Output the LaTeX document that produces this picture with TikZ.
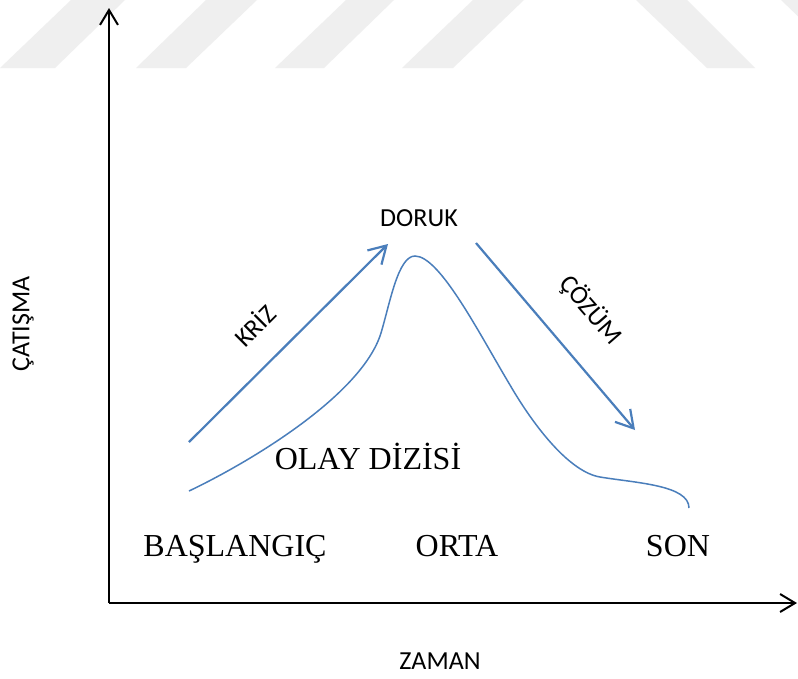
\documentclass[tikz,border=0pt]{standalone}
\usepackage{fontspec}
\setmainfont{Liberation Serif}
\newfontfamily\calibri{Carlito}
\usetikzlibrary{arrows.meta}
\definecolor{ablue}{HTML}{4A7EBB}
\definecolor{wm}{HTML}{EFEFEF}
\begin{document}
\begin{tikzpicture}[x=1pt,y=-1pt,
  lab/.style={font=\calibri\fontsize{26}{30}\selectfont, inner sep=0pt},
  stage/.style={font=\fontsize{32}{38}\selectfont, inner sep=0pt, anchor=base},
  axis/.style={line width=2pt, -{Straight Barb[length=15pt,width=18pt]}},
  barrow/.style={ablue, line width=2.2pt, -{Straight Barb[length=17pt,width=20pt]}},
  curvestyle/.style={ablue, line width=1.5pt},
  stripe/.style={fill=wm, draw=none}]
\useasboundingbox (0,0) rectangle (798,678);
\fill[white] (0,0) rectangle (798,678);
% watermark stripes
\begin{scope}
\clip (0,0) rectangle (798,678);
\fill[stripe] (71,0) -- (125,0) -- (55,68) -- (0,68) -- cycle;
\fill[stripe] (206,0) -- (257,0) -- (186,68) -- (136,68) -- cycle;
\fill[stripe] (346,0) -- (394,0) -- (324,68) -- (275,68) -- cycle;
\fill[stripe] (473,0) -- (524,0) -- (453,68) -- (402,68) -- cycle;
\fill[stripe] (636,0) -- (687,0) -- (755,68) -- (707,68) -- cycle;
\fill[stripe] (781,0) -- (832,0) -- (900,68) -- (852,68) -- cycle;
\end{scope}
% axes
\coordinate (O) at (109,603);
\coordinate (ytop) at (109,8);
\coordinate (xend) at (797,603);
\draw[axis] (O) -- (ytop);
\draw[axis] (O) -- (xend);
% blue arrows
\coordinate (k1) at (189,442);
\coordinate (k2) at (388,244);
\coordinate (c1) at (476,243);
\coordinate (c2) at (635,430);
\draw[barrow] (k1) -- (k2);
\draw[barrow] (c1) -- (c2);
% plot curve
\coordinate (pa) at (189,491);
\coordinate (pb) at (381,333);
\coordinate (pp) at (415,256);
\coordinate (pd) at (510,385);
\coordinate (pe) at (600,477);
\coordinate (pf) at (689,508);
\draw[curvestyle] (pa) .. controls (250,462) and (362,395) .. (pb)
  .. controls (390,303) and (398,256) .. (pp)
  .. controls (440,256) and (480,335) .. (pd)
  .. controls (535,428) and (570,472) .. (pe)
  .. controls (636,483) and (689,485) .. (pf);
% labels
\node[lab] (doruk) at (419,218) {DORUK};
\node[lab] (zaman) at (440,661) {ZAMAN};
\node[lab, rotate=90] (catisma) at (23,324) {ÇATIŞMA};
\node[lab, rotate=45] (kriz) at (254,325) {KRİZ};
\node[lab, rotate=-49] (cozum) at (591,310) {ÇÖZÜM};
\node[stage] (olay) at (368,469) {OLAY DİZİSİ};
\node[stage] (bas) at (235,556) {BAŞLANGIÇ};
\node[stage] (orta) at (457,556) {ORTA};
\node[stage] (son) at (678,556) {SON};
\end{tikzpicture}
\end{document}
